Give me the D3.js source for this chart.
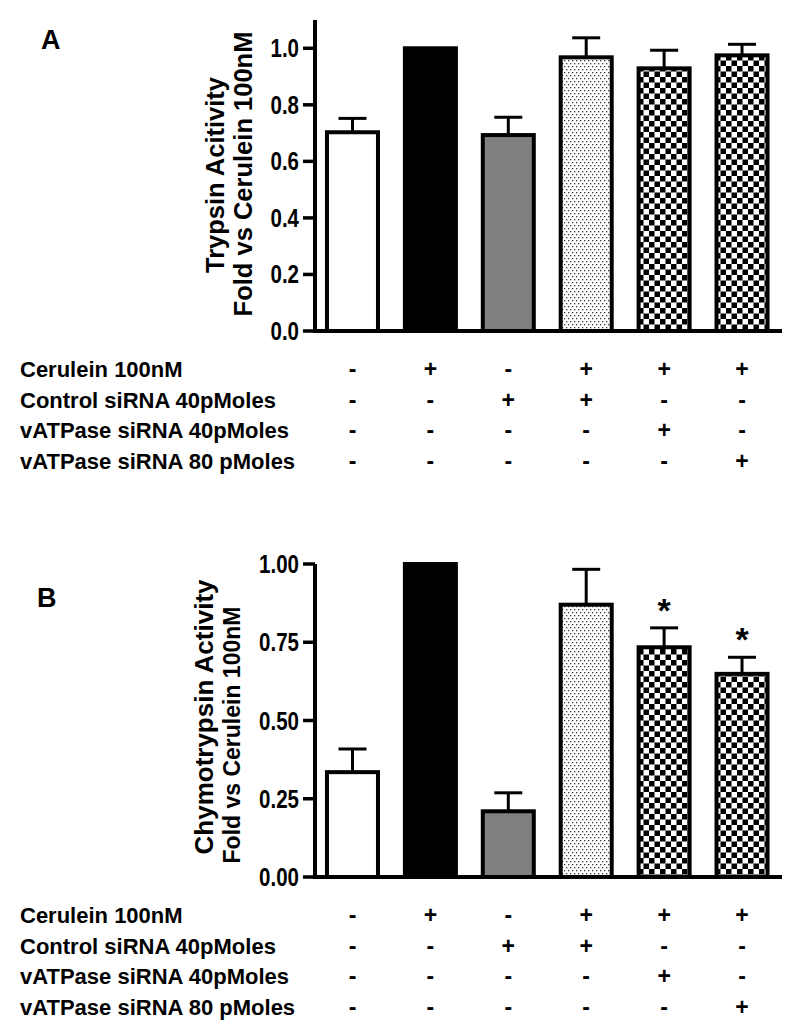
<!DOCTYPE html>
<html><head><meta charset="utf-8">
<script src="https://cdn.jsdelivr.net/npm/d3@7"></script>
<style>
body{margin:0;background:#fff}
svg{display:block}
text{font-family:"Liberation Sans",Arial,Helvetica,sans-serif;font-weight:bold;fill:#000}
</style>
</head><body>
<svg id="c" width="798" height="1030"></svg>
<script>
// ---- data ----
const groups = ["ctrl", "cer", "siCtrl", "cer+siCtrl", "cer+vATP40", "cer+vATP80"];
const fills = ["white", "black", "gray", "dots", "check", "check"];
const trypsinMean = [0.703, 1.0, 0.693, 0.968, 0.929, 0.975];
const trypsinErr  = [0.049, 0, 0.063, 0.069, 0.064, 0.039];
const chymoMean   = [0.335, 1.0, 0.210, 0.870, 0.734, 0.649];
const chymoErr    = [0.074, 0, 0.059, 0.113, 0.062, 0.053];
const chymoSig    = [false, false, false, false, true, true];
const trypsinTicks = [0, 0.2, 0.4, 0.6, 0.8, 1.0];
const chymoTicks   = [0, 0.25, 0.5, 0.75, 1.0];
const rowLabels = ["Cerulein 100nM", "Control siRNA 40pMoles", "vATPase siRNA 40pMoles", "vATPase siRNA 80 pMoles"];
const rowCerulein = ["-", "+", "-", "+", "+", "+"];
const rowControl  = ["-", "-", "+", "+", "-", "-"];
const rowVATP40   = ["-", "-", "-", "-", "+", "-"];
const rowVATP80   = ["-", "-", "-", "-", "-", "+"];
const conditionRows = [rowCerulein, rowControl, rowVATP40, rowVATP80];

const svg = d3.select("#c");
const defs = svg.append("defs");
// dotted pattern
const pd = defs.append("pattern").attr("id", "dots").attr("patternUnits", "userSpaceOnUse")
  .attr("width", 4).attr("height", 6);
pd.append("rect").attr("width", 4).attr("height", 6).attr("fill", "#fff");
pd.append("rect").attr("x", 0).attr("y", 0).attr("width", 1.3).attr("height", 1.3).attr("fill", "#3a3a3a");
pd.append("rect").attr("x", 2).attr("y", 3).attr("width", 1.3).attr("height", 1.3).attr("fill", "#3a3a3a");
// checkerboard
const pc = defs.append("pattern").attr("id", "check").attr("patternUnits", "userSpaceOnUse")
  .attr("width", 11).attr("height", 11);
pc.append("rect").attr("width", 11).attr("height", 11).attr("fill", "#fff");
pc.append("rect").attr("x", 0).attr("y", 0).attr("width", 5.5).attr("height", 5.5).attr("fill", "#000");
pc.append("rect").attr("x", 5.5).attr("y", 5.5).attr("width", 5.5).attr("height", 5.5).attr("fill", "#000");

const fillOf = f => f === "dots" ? "url(#dots)" : f === "check" ? "url(#check)" : f === "gray" ? "#808080" : f === "black" ? "#000" : "#fff";

const x = d3.scaleBand().domain(groups).range([315, 779.5]).paddingInner(0.294).paddingOuter(0.128);
const axisX = 315;
const SW = 4;

function panel(opt) {
  const g = svg.append("g");
  const y = d3.scaleLinear().domain(opt.domain).range([opt.base, opt.top]);
  // bars
  groups.forEach((k, i) => {
    const v = opt.mean[i];
    const bx = x(k), bw = x.bandwidth();
    const cx = bx + bw / 2;
    if (opt.err[i] > 0) {
      g.append("line").attr("x1", cx).attr("x2", cx).attr("y1", y(v)).attr("y2", y(v + opt.err[i]))
        .attr("stroke", "#000").attr("stroke-width", 3);
      g.append("line").attr("x1", cx - 14).attr("x2", cx + 14).attr("y1", y(v + opt.err[i])).attr("y2", y(v + opt.err[i]))
        .attr("stroke", "#000").attr("stroke-width", 3);
    }
    g.append("rect").attr("x", bx + SW / 2).attr("width", bw - SW)
      .attr("y", y(v)).attr("height", y(0) - y(v))
      .attr("fill", fillOf(fills[i])).attr("stroke", "#000").attr("stroke-width", SW);
    if (opt.sig && opt.sig[i]) {
      g.append("text").attr("x", cx).attr("y", y(v + opt.err[i]) - 6)
        .attr("text-anchor", "middle").attr("font-size", 34).text("*");
    }
  });
  // axes
  g.append("line").attr("x1", axisX).attr("x2", axisX).attr("y1", y(0) + 2).attr("y2", y(opt.domain[1]))
    .attr("stroke", "#000").attr("stroke-width", SW);
  g.append("line").attr("x1", axisX - 2).attr("x2", 782).attr("y1", y(0)).attr("y2", y(0))
    .attr("stroke", "#000").attr("stroke-width", SW);
  opt.ticks.forEach(t => {
    g.append("line").attr("x1", axisX - 12).attr("x2", axisX).attr("y1", y(t)).attr("y2", y(t))
      .attr("stroke", "#000").attr("stroke-width", 3.5);
    g.append("text").attr("transform", `translate(299,${y(t)}) scale(0.82,1)`)
      .attr("text-anchor", "end").attr("dy", "0.36em").attr("font-size", 25)
      .text(d3.format(opt.fmt)(t));
  });
  // y title
  const tg = g.append("g");
  opt.title.forEach((line, j) => {
    tg.append("text").attr("transform", `translate(${opt.titleX[j]},${opt.titleY[j]}) rotate(-90)`)
      .attr("text-anchor", "middle").attr("font-size", opt.titleSize[j]).text(line);
  });
  // panel letter
  g.append("text").attr("x", opt.letterX).attr("y", opt.letterY).attr("font-size", opt.letterSize).text(opt.letter);
  // condition table
  rowLabels.forEach((lab, r) => {
    const by = y(0) + 46 + r * 30.7;
    g.append("text").attr("x", 20).attr("y", by).attr("font-size", 22).text(lab);
    conditionRows[r].forEach((s, i) => {
      g.append("text").attr("x", x(groups[i]) + x.bandwidth() / 2).attr("y", by)
        .attr("text-anchor", "middle").attr("font-size", 23).text(s);
    });
  });
}

panel({
  domain: [0, 1.1], base: 331, top: 20, mean: trypsinMean, err: trypsinErr, ticks: trypsinTicks, fmt: ".1f",
  title: ["Trypsin Acitivity", "Fold vs Cerulein 100nM"], titleX: [224, 252], titleY: [175, 174], titleSize: [25.5, 25.5],
  letter: "A", letterX: 41, letterY: 49, letterSize: 27
});
panel({
  domain: [0, 1.0], base: 877, top: 564, mean: chymoMean, err: chymoErr, sig: chymoSig, ticks: chymoTicks, fmt: ".2f",
  title: ["Chymotrypsin Activity", "Fold vs Cerulein 100nM"], titleX: [213, 240], titleY: [717, 735], titleSize: [26, 23],
  letter: "B", letterX: 37, letterY: 607, letterSize: 27
});
</script>
</body></html>
